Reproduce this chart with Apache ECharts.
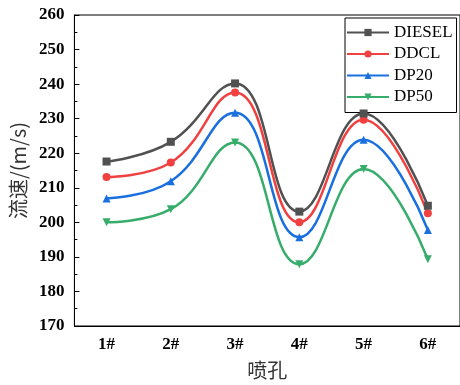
<!DOCTYPE html>
<html>
<head>
<meta charset="utf-8">
<script src="https://cdn.jsdelivr.net/npm/echarts@6/dist/echarts.min.js"></script>
<style>html,body{margin:0;padding:0;background:#fff;}#c{width:460px;height:385px;}</style>
</head>
<body>
<div id="c"></div>
<script>
const categories = ['1#', '2#', '3#', '4#', '5#', '6#'];
const seriesNames = ['DIESEL', 'DDCL', 'DP20', 'DP50'];
const diesel = [217.6, 223.3, 240.2, 203.1, 231.5, 204.8];
const ddcl   = [213.1, 217.3, 237.6, 200.0, 229.7, 202.6];
const dp20   = [206.9, 211.9, 231.7, 195.7, 223.9, 197.8];
const dp50   = [200.0, 203.8, 223.1, 187.9, 215.4, 189.3];
const yTicks = { min: 170, max: 260, interval: 10 };

const colors = ['#515151', '#F14040', '#1A6FDF', '#37AD6B'];
const symbols = ['rect', 'circle', 'triangle', 'path://M0,0 L10,0 L5,9 Z'];
const allData = [diesel, ddcl, dp20, dp50];
const serif = '"Liberation Serif", "Times New Roman", serif';

const chart = echarts.init(document.getElementById('c'), null, { renderer: 'canvas' });
chart.setOption({
  animation: false,
  backgroundColor: '#fff',
  grid: { left: 72, top: 15, width: 391, height: 315, show: true, borderColor: '#000', borderWidth: 1, backgroundColor: 'transparent' },
  legend: {
    orient: 'vertical', left: 345, top: 18,
    padding: [6, 4, 7, 1],
    itemWidth: 42, itemHeight: 9, itemGap: 4.5,
    borderColor: '#000', borderWidth: 1, borderRadius: 0,
    textStyle: { fontFamily: serif, fontSize: 17, color: '#000' },
    data: seriesNames
  },
  xAxis: {
    type: 'category', data: categories, boundaryGap: true,
    axisLine: { lineStyle: { color: '#000', width: 1 } },
    axisTick: { inside: true, length: 5, alignWithLabel: true, lineStyle: { color: '#000' } },
    axisLabel: { fontFamily: serif, fontSize: 17, fontWeight: 'bold', color: '#000', margin: 10 },
    name: '喷孔', nameLocation: 'middle', nameGap: 34,
    nameTextStyle: { fontFamily: '"Noto Sans CJK SC", sans-serif', fontSize: 20, color: '#333' },
    splitLine: { show: false }
  },
  yAxis: {
    type: 'value', min: yTicks.min, max: yTicks.max, interval: yTicks.interval,
    axisLine: { show: true, lineStyle: { color: '#000', width: 1 } },
    axisTick: { show: true, inside: true, length: 5, lineStyle: { color: '#000' } },
    minorTick: { show: true, splitNumber: 2, length: 3, lineStyle: { color: '#000' } },
    axisLabel: { fontFamily: serif, fontSize: 17, fontWeight: 'bold', color: '#000', margin: 10 },
    splitLine: { show: false },
    name: '流速/(m/s)', nameLocation: 'middle', nameGap: 42,
    nameTextStyle: { fontFamily: '"Noto Sans CJK SC", sans-serif', fontSize: 20, color: '#333' }
  },
  series: seriesNames.map((n, i) => ({
    name: n, type: 'line', smooth: 0.45, data: allData[i],
    symbol: symbols[i], symbolSize: 8,
    lineStyle: { color: colors[i], width: 2.5 },
    itemStyle: { color: colors[i] },
    z: 10 - i
  }))
});
</script>
</body>
</html>
